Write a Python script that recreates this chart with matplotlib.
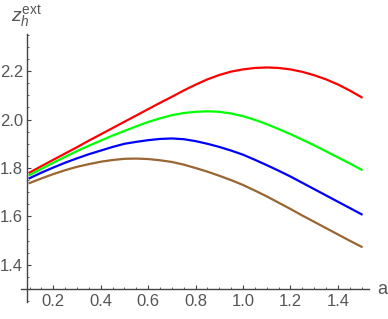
import numpy as np
import matplotlib
matplotlib.use('Agg')
import matplotlib.pyplot as plt
from matplotlib.ticker import MultipleLocator

plt.rcParams['font.family'] = ['Liberation Sans', 'DejaVu Sans']
plt.rcParams['mathtext.fontset'] = 'custom'
plt.rcParams['mathtext.rm'] = 'Liberation Sans'
plt.rcParams['mathtext.it'] = 'Liberation Sans:italic'

# values, a = 0.1 ... 1.5 in steps of 0.05
a_vals = [0.10, 0.15, 0.20, 0.25, 0.30, 0.35, 0.40, 0.45, 0.50, 0.55,
          0.60, 0.65, 0.70, 0.75, 0.80, 0.85, 0.90, 0.95, 1.00, 1.05,
          1.10, 1.15, 1.20, 1.25, 1.30, 1.35, 1.40, 1.45, 1.50]
z_red = [1.781, 1.808, 1.834, 1.860, 1.886, 1.913, 1.939, 1.965, 1.991, 2.017,
         2.043, 2.069, 2.094, 2.120, 2.144, 2.166, 2.184, 2.198, 2.207, 2.213,
         2.215, 2.213, 2.207, 2.197, 2.183, 2.166, 2.145, 2.120, 2.092]
z_green = [1.771, 1.797, 1.822, 1.846, 1.870, 1.892, 1.913, 1.934, 1.953, 1.972,
           1.990, 2.005, 2.018, 2.027, 2.032, 2.034, 2.032, 2.025, 2.014, 1.999,
           1.981, 1.961, 1.940, 1.917, 1.894, 1.869, 1.844, 1.819, 1.793]
z_blue = [1.758, 1.781, 1.802, 1.822, 1.840, 1.857, 1.872, 1.887, 1.900, 1.908,
          1.915, 1.920, 1.922, 1.919, 1.911, 1.900, 1.887, 1.872, 1.855, 1.834,
          1.812, 1.789, 1.765, 1.739, 1.713, 1.687, 1.661, 1.635, 1.609]
z_brown = [1.738, 1.757, 1.775, 1.791, 1.805, 1.816, 1.826, 1.833, 1.838, 1.839,
           1.837, 1.832, 1.825, 1.814, 1.800, 1.785, 1.768, 1.750, 1.730, 1.707,
           1.683, 1.657, 1.631, 1.604, 1.578, 1.552, 1.526, 1.500, 1.475]

series = [(z_red, '#ff0000'), (z_green, '#00ff00'), (z_blue, '#0000ff'), (z_brown, '#996633')]

x_ticks = [0.2, 0.4, 0.6, 0.8, 1.0, 1.2, 1.4]
y_ticks = [1.4, 1.6, 1.8, 2.0, 2.2]

axis_col = '#444444'
label_col = '#555555'

fig = plt.figure(figsize=(3.88, 3.19), dpi=100)
ax = fig.add_axes([0.0534, 0.0533, 0.898, 0.840])

for z, col in series:
    ax.plot(a_vals, z, color=col, lw=1.6)

ax.set_xlim(0.0625, 1.532)
ax.set_ylim(1.247, 2.353)

# axes cross like Mathematica's, with a small overhang
for s in ['top', 'right']:
    ax.spines[s].set_visible(False)
ax.spines['left'].set_position(('data', 0.09))
ax.spines['bottom'].set_position(('data', 1.30))
for s in ['left', 'bottom']:
    ax.spines[s].set_color(axis_col)
    ax.spines[s].set_linewidth(1.0)

ax.set_xticks(x_ticks)
ax.set_yticks(y_ticks)
ax.set_xticklabels(['%.1f' % v for v in x_ticks])
ax.set_yticklabels(['%.1f' % v for v in y_ticks])
ax.xaxis.set_minor_locator(MultipleLocator(0.05))
ax.yaxis.set_minor_locator(MultipleLocator(0.05))
ax.tick_params(which='major', direction='in', length=3.0, width=0.8, color=axis_col,
               labelsize=12, labelcolor=label_col)
ax.tick_params(axis='y', which='major', pad=3)
ax.tick_params(which='minor', direction='in', length=1.6, width=0.6, color=axis_col)

fig.text(11 / 388, 1 - 22 / 319, r'$z_h^{\mathrm{ext}}$', fontsize=14, color=label_col,
         ha='left', va='baseline')
fig.text(382 / 388, 1 - 290 / 319, 'a', fontsize=13, color=label_col, ha='center', va='center')

fig.savefig('out.png', dpi=100)
